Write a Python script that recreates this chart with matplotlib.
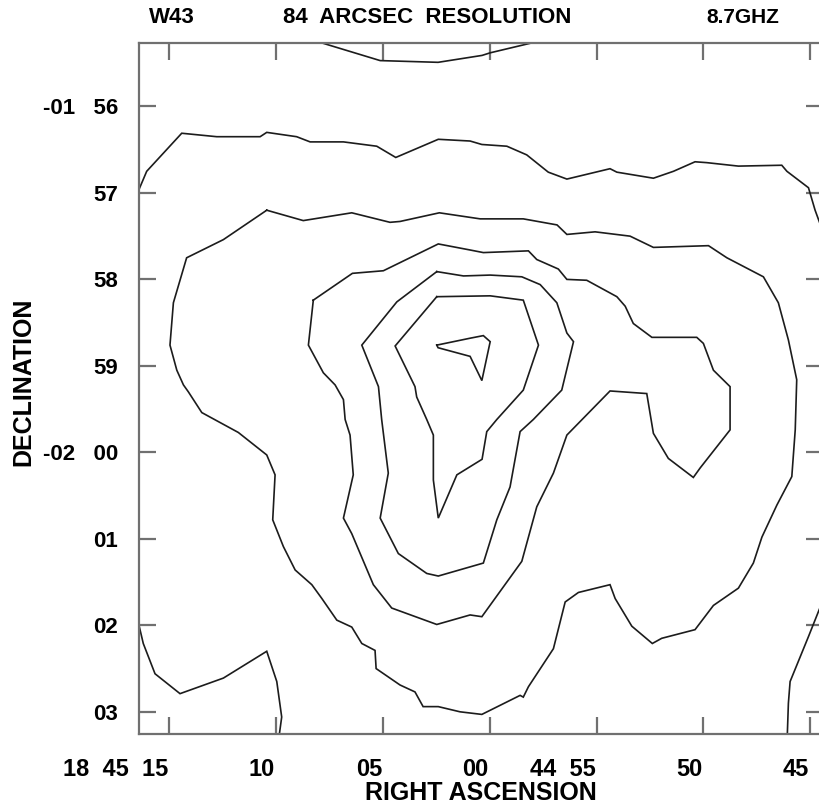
import matplotlib.pyplot as plt
from matplotlib.transforms import ScaledTranslation

# W43 at 8.7 GHz, 84" resolution
# x = RA seconds relative to 18h45m00s, y = Dec arcmin relative to -02 00
ra_a = [7.80, 5.13, 2.42, 0.36, -0.02, -1.89]
dec_a = [4.73, 4.53, 4.51, 4.59, 4.62, 4.73]

ra_b = [16.42, 16.06, 14.42, 12.78, 10.75, 10.44, 9.04, 8.41, 6.85, 5.29, 4.40, 2.41,
        0.92, 0.37, -0.80, -1.73, -2.74, -3.61, -5.63, -5.95, -7.66, -8.60, -9.61,
        -10.16, -11.64, -13.67, -13.91, -14.92, -15.23, -15.60]
dec_b = [3.04, 3.25, 3.69, 3.65, 3.65, 3.70, 3.65, 3.59, 3.59, 3.54, 3.41, 3.62,
         3.60, 3.56, 3.54, 3.44, 3.24, 3.16, 3.28, 3.24, 3.17, 3.25, 3.36,
         3.35, 3.31, 3.32, 3.25, 3.06, 2.80, 2.55]

ra_c = [10.44, 12.47, 14.19, 14.81, 14.97, 14.65, 14.34, 14.11, 13.48, 11.77, 10.44,
        10.05, 10.16, 9.66, 9.11, 8.33, 7.86, 7.16, 6.46, 5.99, 5.37, 5.32, 4.20,
        3.50, 3.12, 2.41, 1.39, 0.37, -1.42, -1.57, -1.81, -2.98, -3.53, -4.15,
        -5.63, -5.87, -6.65, -7.61, -8.05, -9.61, -10.47, -11.64, -12.34, -12.74,
        -13.44, -14.14, -14.30, -14.37, -13.98, -13.51, -12.81, -11.10, -10.24,
        -7.66, -6.57, -4.93, -3.61, -3.15, -1.57, 0.45, 2.36, 4.20, 4.67, 6.46,
        8.73, 10.44]
dec_c = [2.80, 2.46, 2.25, 1.73, 1.24, 0.95, 0.78, 0.70, 0.46, 0.23, -0.03,
         -0.26, -0.78, -1.09, -1.36, -1.53, -1.69, -1.94, -2.02, -2.21, -2.29, -2.50, -2.69,
         -2.77, -2.94, -2.94, -3.00, -3.03, -2.81, -2.83, -2.71, -2.27, -1.73, -1.62,
         -1.53, -1.69, -2.01, -2.21, -2.15, -2.05, -1.77, -1.57, -1.28, -0.98,
         -0.61, -0.28, 0.26, 0.84, 1.30, 1.73, 2.03, 2.25, 2.39,
         2.37, 2.50, 2.55, 2.52, 2.63, 2.70, 2.70, 2.77, 2.67, 2.66, 2.77,
         2.68, 2.80]

ra_d = [8.26, 6.43, 4.98, 2.41, 0.92, 0.30, -1.81, -2.20, -3.21, -3.61, -4.54, -5.95,
        -6.34, -6.72, -7.59, -9.69, -10.00, -10.47, -11.25, -11.25, -9.85, -9.53,
        -8.36, -7.66, -7.35, -5.63, -3.61, -2.98, -2.20, -1.50, 0.37, 0.92, 2.48,
        4.59, 5.45, 6.46, 6.85, 6.39, 6.54, 6.77, 6.85, 7.24, 7.79, 8.49, 8.26]
dec_d = [1.76, 2.07, 2.10, 2.41, 2.34, 2.31, 2.33, 2.23, 2.12, 2.00, 1.99, 1.80,
         1.69, 1.49, 1.33, 1.33, 1.26, 0.95, 0.76, 0.26, -0.18, -0.29,
         -0.07, 0.22, 0.68, 0.71, 0.20, -0.24, -0.63, -1.26, -1.90, -1.88, -1.99,
         -1.80, -1.53, -0.94, -0.76, -0.26, 0.20, 0.38, 0.61, 0.78, 0.92, 1.24, 1.76]

ra_e = [2.48, 1.23, -0.02, -1.50, -2.36, -3.14, -3.61, -3.92, -3.37, -2.04, -1.42,
        -0.95, -0.33, 0.30, 2.41, 2.95, 4.28, 5.13, 4.75, 5.06, 5.21, 5.99, 4.35, 2.48]
dec_e = [2.09, 2.04, 2.05, 2.03, 1.94, 1.73, 1.38, 1.28, 0.72, 0.38, 0.24,
         -0.40, -0.78, -1.28, -1.43, -1.40, -1.17, -0.76, -0.24, 0.38, 0.76, 1.24, 1.74, 2.09]

ra_f = [2.48, -0.02, -1.57, -2.28, -1.57, -0.33, 0.14, 0.36, 1.54, 2.41, 2.64, 2.64,
        2.95, 3.42, 3.50, 4.43, 2.48]
dec_f = [1.80, 1.81, 1.76, 1.24, 0.72, 0.38, 0.24, -0.08, -0.26, -0.76, -0.32, 0.20,
         0.38, 0.64, 0.76, 1.23, 1.80]

ra_g = [2.48, 0.92, 0.30, -0.02, 0.37, 0.92, 2.42, 2.48]
dec_g = [1.24, 1.32, 1.35, 1.28, 0.83, 1.11, 1.21, 1.24]

ra_h = [16.42, 16.22, 15.67, 14.50, 12.47, 10.44, 9.97, 9.74, 9.85]
dec_h = [-2.00, -2.21, -2.56, -2.79, -2.61, -2.30, -2.65, -3.06, -3.26]

ra_i = [-15.60, -15.42, -14.92, -14.06, -13.98, -13.93]
dec_i = [-1.71, -1.82, -2.13, -2.65, -2.90, -3.26]

ra_ticks = [15, 10, 5, 0, -5, -10, -15]
ra_labels = ["18  45  15", "10", "05", "00", "44  55", "50", "45"]
dec_ticks = [4, 3, 2, 1, 0, -1, -2, -3]
dec_labels = ["-01   56", "57", "58", "59", "-02   00", "01", "02", "03"]

contours = [(ra_a, dec_a), (ra_b, dec_b), (ra_c, dec_c), (ra_d, dec_d),
            (ra_e, dec_e), (ra_f, dec_f), (ra_g, dec_g), (ra_h, dec_h), (ra_i, dec_i)]

fam = ['Liberation Sans', 'DejaVu Sans']
frame_col = '#707070'

fig = plt.figure(figsize=(8.19, 8.06), dpi=100)
ax = fig.add_axes([139 / 819, 1 - 734.3 / 806, 684 / 819, 691 / 806])

for ra, dec in contours:
    ax.plot(ra, dec, color='#1c1c1c', lw=1.2, solid_joinstyle='miter')

ax.set_xlim(16.42, -15.60)
ax.set_ylim(-3.26, 4.73)

for s in ax.spines.values():
    s.set_color(frame_col)
    s.set_linewidth(1.6)

ax.set_xticks(ra_ticks)
ax.set_xticklabels(ra_labels, fontsize=17, fontweight='bold', family=fam, ha='right')
ax.set_yticks(dec_ticks)
ax.set_yticklabels(dec_labels, fontsize=16, fontweight='bold', family=fam)
ax.tick_params(direction='in', length=12, width=1.6, color=frame_col,
               top=True, right=True)
ax.tick_params(axis='x', pad=17)
ax.tick_params(axis='y', pad=15)

shift = ScaledTranslation(-1 / 100, 0, fig.dpi_scale_trans)
for lbl in ax.get_xticklabels():
    lbl.set_transform(lbl.get_transform() + shift)

ax.set_xlabel("RIGHT ASCENSION", fontsize=18, fontweight='bold', family=fam, labelpad=0)
ax.set_ylabel("DECLINATION", fontsize=18, fontweight='bold', family=fam)
ax.yaxis.set_label_coords(-0.152, 0.51)

fig.text(0.21, 0.978, "W43", fontsize=16, fontweight='bold', family=fam, ha='center', va='center')
fig.text(0.522, 0.978, "84  ARCSEC  RESOLUTION", fontsize=16, fontweight='bold', family=fam,
         ha='center', va='center')
fig.text(0.907, 0.978, "8.7GHZ", fontsize=15, fontweight='bold', family=fam, ha='center', va='center')

fig.savefig("out.png", dpi=100)
